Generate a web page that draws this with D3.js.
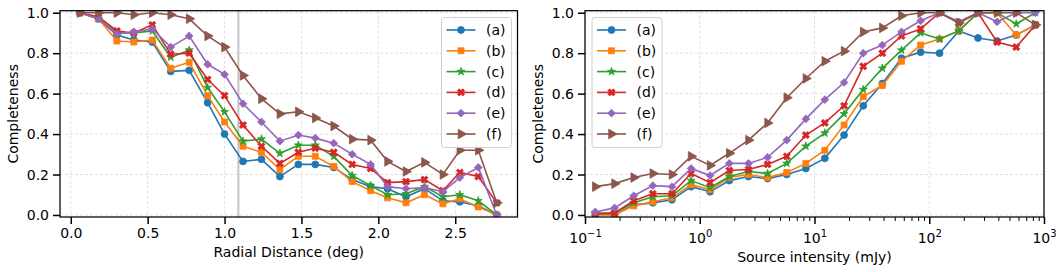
<!DOCTYPE html>
<html>
<head>
<meta charset="utf-8">
<script src="https://cdn.jsdelivr.net/npm/d3@7"></script>
<style>
  body { margin: 0; background: #fff; }
  svg { font-family: "DejaVu Sans", sans-serif; }
</style>
</head>
<body>
<div id="chart"></div>
<script>
// categories / series names
const labels = ["(a)", "(b)", "(c)", "(d)", "(e)", "(f)"];

// left panel: completeness vs radial distance
const radialDist = [0.06, 0.18, 0.30, 0.41, 0.53, 0.65, 0.77, 0.89, 1.00, 1.12, 1.24, 1.36,
                    1.48, 1.59, 1.71, 1.83, 1.95, 2.06, 2.18, 2.30, 2.42, 2.53, 2.65, 2.77];
const radA = [1.0, 0.97, 0.89, 0.865, 0.855, 0.71, 0.715, 0.555, 0.40, 0.265, 0.275, 0.19, 0.25, 0.25, 0.235, 0.175, 0.14, 0.13, 0.09, 0.13, 0.07, 0.065, 0.045, 0.0];
const radB = [1.0, 0.97, 0.86, 0.855, 0.865, 0.725, 0.755, 0.59, 0.46, 0.34, 0.31, 0.225, 0.29, 0.29, 0.24, 0.165, 0.12, 0.085, 0.06, 0.10, 0.055, 0.08, 0.04, 0.0];
const radC = [1.0, 0.97, 0.90, 0.90, 0.91, 0.78, 0.815, 0.63, 0.51, 0.365, 0.375, 0.305, 0.345, 0.345, 0.29, 0.195, 0.145, 0.10, 0.105, 0.14, 0.09, 0.10, 0.07, 0.0];
const radD = [1.0, 0.98, 0.91, 0.90, 0.94, 0.795, 0.80, 0.67, 0.59, 0.445, 0.34, 0.255, 0.31, 0.33, 0.31, 0.25, 0.23, 0.16, 0.165, 0.175, 0.12, 0.21, 0.19, 0.06];
const radE = [1.0, 0.97, 0.895, 0.905, 0.92, 0.83, 0.885, 0.745, 0.695, 0.55, 0.46, 0.365, 0.395, 0.38, 0.355, 0.30, 0.25, 0.14, 0.13, 0.135, 0.115, 0.185, 0.235, 0.0];
const radF = [1.0, 1.0, 1.0, 0.99, 1.0, 0.99, 0.97, 0.885, 0.83, 0.69, 0.575, 0.50, 0.51, 0.48, 0.44, 0.375, 0.37, 0.265, 0.215, 0.26, 0.20, 0.32, 0.32, 0.06];
const radCut = 1.09;

// right panel: completeness vs source intensity (mJy)
const intensity = [0.123, 0.181, 0.266, 0.390, 0.573, 0.841, 1.23, 1.81, 2.66, 3.90, 5.73, 8.41,
                   12.3, 18.1, 26.6, 39.0, 57.3, 84.1, 123, 181, 266, 390, 573, 841];
const intA = [0.005, 0.0, 0.05, 0.06, 0.075, 0.14, 0.115, 0.17, 0.19, 0.18, 0.20, 0.23, 0.28, 0.395, 0.54, 0.65, 0.775, 0.805, 0.80, 0.91, 0.875, 0.86, 0.89, 0.94];
const intB = [0.0, 0.0, 0.045, 0.065, 0.085, 0.15, 0.125, 0.185, 0.20, 0.185, 0.21, 0.255, 0.32, 0.445, 0.585, 0.64, 0.76, 0.84, 0.87, 0.91, 1.0, 1.0, 0.89, 0.94];
const intC = [0.01, 0.01, 0.06, 0.09, 0.095, 0.17, 0.135, 0.19, 0.215, 0.205, 0.255, 0.34, 0.405, 0.50, 0.62, 0.725, 0.815, 0.90, 0.87, 0.91, 1.0, 1.0, 0.945, 1.0];
const intD = [0.005, 0.01, 0.07, 0.105, 0.105, 0.205, 0.16, 0.22, 0.225, 0.25, 0.29, 0.395, 0.455, 0.54, 0.735, 0.80, 0.885, 0.92, 1.0, 0.95, 1.0, 0.855, 0.83, 0.94];
const intE = [0.015, 0.035, 0.095, 0.145, 0.14, 0.23, 0.195, 0.255, 0.255, 0.285, 0.37, 0.475, 0.57, 0.655, 0.80, 0.84, 0.905, 0.96, 1.0, 0.955, 1.0, 0.955, 1.0, 1.0];
const intF = [0.14, 0.155, 0.185, 0.205, 0.20, 0.29, 0.245, 0.305, 0.37, 0.455, 0.58, 0.675, 0.76, 0.81, 0.905, 0.925, 0.985, 1.0, 1.0, 0.95, 1.0, 1.0, 1.0, 0.94];

// tick labels
const yTicks = [0.0, 0.2, 0.4, 0.6, 0.8, 1.0];
const radTicks = [0.0, 0.5, 1.0, 1.5, 2.0, 2.5];
const intTicks = [0.1, 1, 10, 100, 1000];

const colors = ["#1f77b4", "#ff7f0e", "#2ca02c", "#d62728", "#9467bd", "#8c564b"];
const markers = [
  { type: d3.symbolCircle, size: 38, rot: 0 },
  { type: d3.symbolSquare, size: 36, rot: 0 },
  { type: d3.symbolStar, size: 20, rot: 0 },
  { type: d3.symbolCross, size: 32, rot: 45 },
  { type: d3.symbolSquare, size: 30, rot: 45 },
  { type: d3.symbolTriangle, size: 40, rot: 90 }
];

const svg = d3.select("#chart").append("svg")
  .attr("width", 1064)
  .attr("height", 272);

const plotTop = 10.7, plotBottom = 217;
const y = d3.scaleLinear().domain([-0.01, 1.01]).range([plotBottom, plotTop]);

function panel(id, left, right, x, xs, series, xTickVals, xLabel, logAxis) {
  const g = svg.append("g");

  g.append("clipPath").attr("id", "clip" + id)
    .append("rect").attr("x", left).attr("y", plotTop)
    .attr("width", right - left).attr("height", plotBottom - plotTop);

  // gitter
  const grid = g.append("g").attr("stroke", "#d8d8d8").attr("stroke-width", 0.8)
    .attr("stroke-dasharray", "3,2");
  yTicks.forEach(t => grid.append("line")
    .attr("x1", left).attr("x2", right).attr("y1", y(t)).attr("y2", y(t)));
  xTickVals.forEach(t => grid.append("line")
    .attr("x1", x(t)).attr("x2", x(t)).attr("y1", plotTop).attr("y2", plotBottom));

  if (id === "L") {
    g.append("line")
      .attr("x1", x(radCut)).attr("x2", x(radCut))
      .attr("y1", plotTop).attr("y2", plotBottom)
      .attr("stroke", "#c4c4c4").attr("stroke-width", 2);
  }

  // linien + marker
  const plot = g.append("g").attr("clip-path", `url(#clip${id})`);
  series.forEach((vals, k) => {
    const pts = vals.map((v, i) => [xs[i], v]);
    plot.append("path")
      .attr("d", d3.line().x(d => x(d[0])).y(d => y(d[1]))(pts))
      .attr("fill", "none")
      .attr("stroke", colors[k])
      .attr("stroke-width", 1.6);
    const m = markers[k];
    plot.selectAll(null).data(pts).enter().append("path")
      .attr("d", d3.symbol().type(m.type).size(m.size))
      .attr("transform", d => `translate(${x(d[0])},${y(d[1])}) rotate(${m.rot})`)
      .attr("fill", colors[k])
      .attr("stroke", colors[k])
      .attr("stroke-width", 0.8);
  });

  // achsen
  const yAxis = g.append("g").attr("transform", `translate(${left},0)`)
    .call(d3.axisLeft(y).tickValues(yTicks).tickFormat(d3.format(".1f")).tickSize(7).tickPadding(4));
  const xAxis = g.append("g").attr("transform", `translate(0,${plotBottom})`)
    .call(d3.axisBottom(x).tickValues(xTickVals).tickSize(7).tickPadding(4)
      .tickFormat(logAxis ? () => "10" : d3.format(".1f")));
  if (logAxis) {
    const minor = [];
    [0.1, 1, 10, 100].forEach(d => d3.range(2, 10).forEach(k => minor.push(d * k)));
    const mAxis = g.append("g").attr("transform", `translate(0,${plotBottom})`)
      .call(d3.axisBottom(x).tickValues(minor).tickSize(4).tickFormat(""));
    mAxis.select(".domain").remove();
    mAxis.selectAll("line").attr("stroke", "#000").attr("stroke-width", 1);
    xAxis.selectAll(".tick text").each(function (d) {
      d3.select(this).append("tspan")
        .attr("dy", "-0.55em")
        .attr("font-size", "10px")
        .text(String(Math.round(Math.log10(d))).replace("-", "\u2212"));
    });
  }
  [yAxis, xAxis].forEach(a => {
    a.select(".domain").remove();
    a.selectAll("line").attr("stroke", "#000").attr("stroke-width", 1.5);
    a.selectAll("text").attr("font-size", "14px").attr("fill", "#000")
      .attr("font-family", "DejaVu Sans, sans-serif");
  });
  if (logAxis) xAxis.selectAll(".tick text").attr("dy", "1.05em");

  // rahmen
  g.append("rect")
    .attr("x", left).attr("y", plotTop)
    .attr("width", right - left).attr("height", plotBottom - plotTop)
    .attr("fill", "none").attr("stroke", "#000").attr("stroke-width", 1.25);

  // beschriftungen
  g.append("text")
    .attr("x", (left + right) / 2).attr("y", logAxis ? 262 : 257)
    .attr("text-anchor", "middle").attr("font-size", "14px")
    .text(xLabel);
  g.append("text")
    .attr("transform", `translate(${left - 42},${(plotTop + plotBottom) / 2}) rotate(-90)`)
    .attr("text-anchor", "middle").attr("font-size", "14px")
    .text("Completeness");

  return g;
}

function legend(g, lx, ly) {
  const lg = g.append("g").attr("transform", `translate(${lx},${ly})`);
  lg.append("rect")
    .attr("width", 70).attr("height", 130).attr("rx", 3)
    .attr("fill", "#fff").attr("fill-opacity", 0.85)
    .attr("stroke", "#d0d0d0").attr("stroke-width", 1);
  labels.forEach((lab, k) => {
    const yy = 12.5 + k * 20.8;
    lg.append("line").attr("x1", 5).attr("x2", 34).attr("y1", yy).attr("y2", yy)
      .attr("stroke", colors[k]).attr("stroke-width", 1.6);
    const m = markers[k];
    lg.append("path")
      .attr("d", d3.symbol().type(m.type).size(m.size))
      .attr("transform", `translate(19.5,${yy}) rotate(${m.rot})`)
      .attr("fill", colors[k]).attr("stroke", colors[k]).attr("stroke-width", 0.8);
    lg.append("text").attr("x", 44.5).attr("y", yy + 5)
      .attr("font-size", "14px").text(lab);
  });
}

const xL = d3.scaleLinear().domain([-0.07, 2.905]).range([60, 517.5]);
const gL = panel("L", 60, 517.5, xL, radialDist,
  [radA, radB, radC, radD, radE, radF], radTicks, "Radial Distance (deg)", false);
legend(gL, 441.5, 17.5);

const xR = d3.scaleLog().domain([0.1, 1000]).range([585, 1044]);
const gR = panel("R", 585, 1044, xR, intensity,
  [intA, intB, intC, intD, intE, intF], intTicks, "Source intensity (mJy)", true);
legend(gR, 592, 17.5);
</script>
</body>
</html>
